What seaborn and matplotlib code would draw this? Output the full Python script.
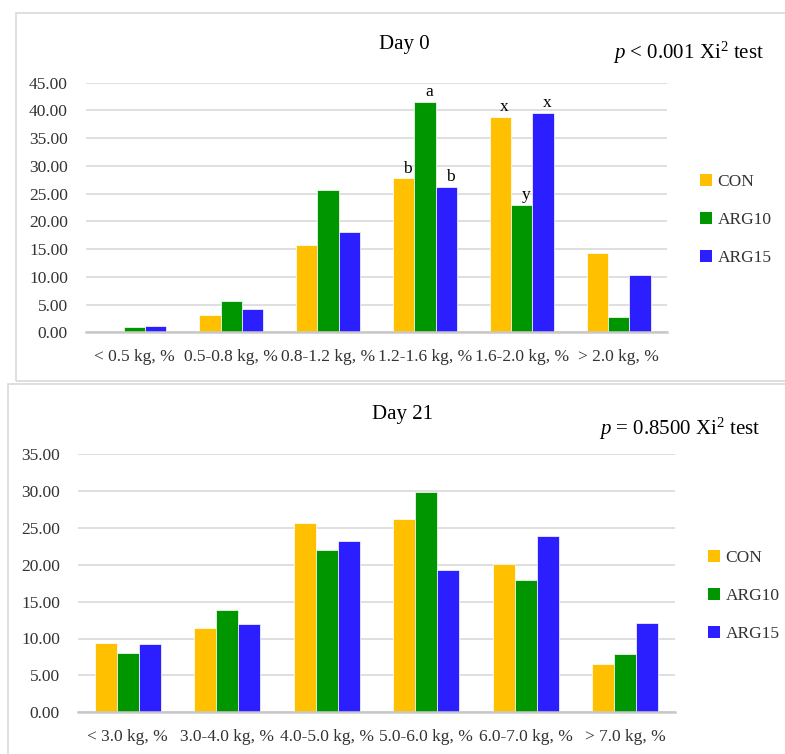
import matplotlib
matplotlib.use("Agg")
import matplotlib.pyplot as plt
from matplotlib.patches import Rectangle, Patch
from matplotlib.font_manager import FontProperties
import seaborn as sns
import pandas as pd

# ---------------- data ----------------
groups = ["CON", "ARG10", "ARG15"]
colors = ["#FFC000", "#009600", "#2B1FFF"]

day0_cats = ["< 0.5 kg, %", "0.5-0.8 kg, %", "0.8-1.2 kg, %",
             "1.2-1.6 kg, %", "1.6-2.0 kg, %", "> 2.0 kg, %"]
day0_con = [0.0, 3.1, 15.7, 27.8, 38.9, 14.3]
day0_arg10 = [0.9, 5.6, 25.7, 41.6, 23.0, 2.8]
day0_arg15 = [1.1, 4.2, 18.1, 26.2, 39.6, 10.3]
day0_ticks = [0, 5, 10, 15, 20, 25, 30, 35, 40, 45]

day21_cats = ["< 3.0 kg, %", "3.0-4.0 kg, %", "4.0-5.0 kg, %",
              "5.0-6.0 kg, %", "6.0-7.0 kg, %", "> 7.0 kg, %"]
day21_con = [9.4, 11.4, 25.7, 26.2, 20.1, 6.6]
day21_arg10 = [8.0, 13.9, 22.0, 29.8, 17.9, 7.9]
day21_arg15 = [9.2, 11.9, 23.2, 19.3, 23.9, 12.1]
day21_ticks = [0, 5, 10, 15, 20, 25, 30, 35]

# significance letters: (group index, category index, letter)
day0_letters = [(0, 3, "b"), (1, 3, "a"), (2, 3, "b"),
                (0, 4, "x"), (1, 4, "y"), (2, 4, "x")]

titles = ["Day 0", "Day 21"]
ptexts = ["$p$ < 0.001 Xi$^{2}$ test", "$p$ = 0.8500 Xi$^{2}$ test"]

# ---------------- style ----------------
sns.set_theme(style="white")
plt.rcParams["font.family"] = ["Liberation Serif", "DejaVu Serif"]
plt.rcParams["mathtext.fontset"] = "custom"
plt.rcParams["mathtext.rm"] = "Liberation Serif"
plt.rcParams["mathtext.it"] = "Liberation Serif:italic"

W, H = 785, 754
fig = plt.figure(figsize=(W / 100, H / 100), dpi=100)
fig.patch.set_facecolor("white")

def fx(px):
    return px / W

def fy(py):
    return 1 - py / H

# panel borders
fig.add_artist(Rectangle((fx(16), fy(381)), 1.1, fy(13) - fy(381),
                         transform=fig.transFigure, fill=False,
                         edgecolor="#D9D9D9", linewidth=1.2))
fig.add_artist(Rectangle((fx(8), -0.1), 1.1, fy(384) + 0.1,
                         transform=fig.transFigure, fill=False,
                         edgecolor="#D9D9D9", linewidth=1.2))

tick_color = "#333333"
fs_tick = 12.5
leg_prop = FontProperties(family="Liberation Serif", size=12.5)


def make_panel(rect, cats, con, a10, a15, ticks, title, ptext,
               title_xy, p_xy, leg_xy, letters=None):
    ax = fig.add_axes(rect)
    df = pd.DataFrame({
        "cat": cats * 3,
        "val": con + a10 + a15,
        "grp": [groups[0]] * len(cats) + [groups[1]] * len(cats) + [groups[2]] * len(cats),
    })
    sns.barplot(data=df, x="cat", y="val", hue="grp", order=cats,
                hue_order=groups, palette=colors, width=0.66,
                saturation=1, legend=False, edgecolor="white",
                linewidth=0.5, ax=ax, zorder=3)
    ax.set_ylim(0, ticks[-1])
    ax.set_xlim(-0.5, len(cats) - 0.5)
    ax.set_yticks(ticks)
    ax.set_yticklabels([f"{t:.2f}" for t in ticks])
    ax.set_xlabel("")
    ax.set_ylabel("")
    ax.yaxis.grid(True, color="#D9D9D9", linewidth=1.2, zorder=0)
    ax.xaxis.grid(False)
    ax.set_axisbelow(True)
    for s in ["top", "left", "right"]:
        ax.spines[s].set_visible(False)
    ax.spines["bottom"].set_color("#C8C8C8")
    ax.spines["bottom"].set_linewidth(1.8)
    ax.spines["bottom"].set_zorder(4)
    ax.tick_params(axis="y", length=0, pad=13, labelsize=fs_tick,
                   labelcolor=tick_color)
    ax.tick_params(axis="x", length=0, pad=12, labelsize=fs_tick,
                   labelcolor=tick_color)

    if letters:
        for g, c, txt in letters:
            bar = ax.containers[g][c]
            x = bar.get_x() + bar.get_width() / 2
            y = bar.get_height()
            ax.annotate(txt, (x, y), xytext=(3, 4), textcoords="offset points",
                        ha="center", va="baseline", fontsize=fs_tick,
                        color="black")

    fig.text(fx(title_xy[0]), fy(title_xy[1]), title, ha="center",
             va="center", fontsize=15, color="black")
    fig.text(fx(p_xy[0]), fy(p_xy[1]), ptext, ha="right", va="center",
             fontsize=15, color="black")

    handles = [Patch(facecolor=c, edgecolor="none") for c in colors]
    fig.legend(handles, groups, loc="center left",
               bbox_to_anchor=(fx(leg_xy[0]), fy(leg_xy[1])),
               bbox_transform=fig.transFigure, frameon=False,
               prop=leg_prop, handlelength=0.7, handleheight=0.7,
               handletextpad=0.3, labelspacing=1.25, borderpad=0,
               borderaxespad=0, labelcolor=tick_color)
    return ax


make_panel([fx(86), fy(332.3), fx(667) - fx(86), fy(82.7) - fy(332.3)],
           day0_cats, day0_con, day0_arg10, day0_arg15, day0_ticks,
           titles[0], ptexts[0], (404, 45), (764, 53), (700, 220),
           letters=day0_letters)

make_panel([fx(78), fy(712.3), fx(675) - fx(78), fy(454) - fy(712.3)],
           day21_cats, day21_con, day21_arg10, day21_arg15, day21_ticks,
           titles[1], ptexts[1], (403, 415), (761, 429), (708, 596))

fig.savefig("out.png", dpi=100, facecolor="white")
